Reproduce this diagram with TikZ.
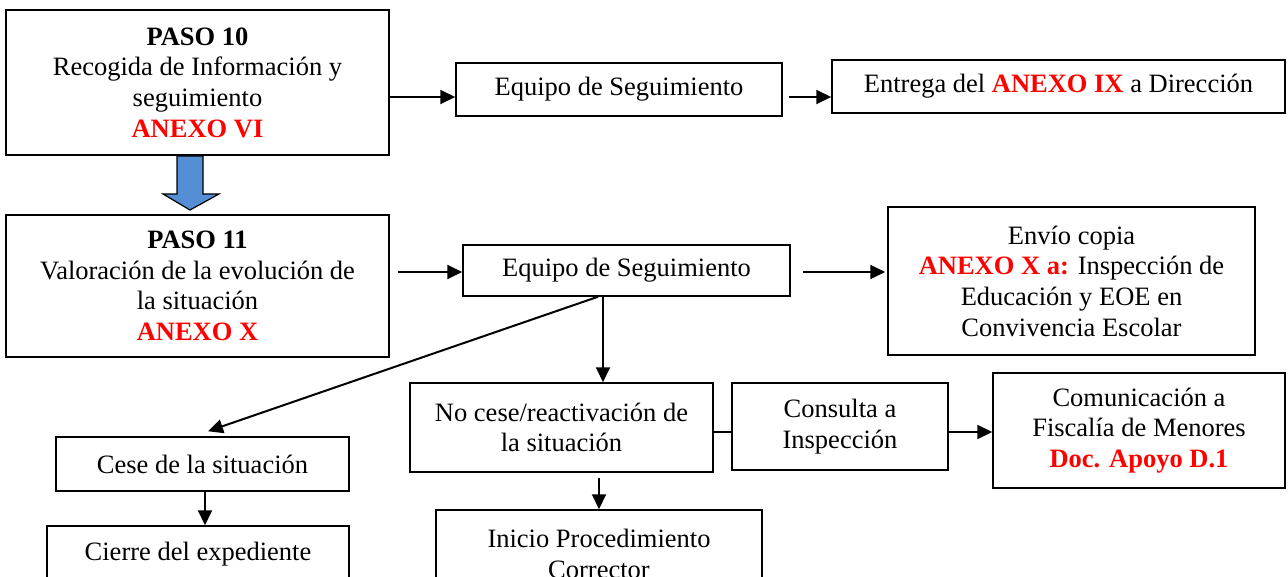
\documentclass[tikz,border=0pt]{standalone}
\usepackage{fontspec}
\setmainfont{Liberation Serif}
\usetikzlibrary{arrows.meta}
\definecolor{anexred}{RGB}{255,0,0}
\definecolor{pasoblue}{RGB}{85,142,213}
\newcommand\rojo[1]{\textcolor{anexred}{\textbf{#1}}}
\tikzset{
  box/.style={draw=black, line width=1.5pt, rectangle, inner sep=0pt, align=center,
    font=\fontsize{26.5}{30.7}\selectfont},
  arr/.style={line width=2pt, -{Triangle[length=15pt,width=14pt]}},
  plain/.style={line width=2pt},
}
\begin{document}
\begin{tikzpicture}[x=1pt,y=-1pt]
\useasboundingbox (0,0) rectangle (1288,577);
\clip (0,0) rectangle (1288,577);
\fill[white] (0,0) rectangle (1288,577);

\node[box, minimum width=383pt, minimum height=145pt] (p10) at (197.5,82.5)
  {\textbf{PASO 10}\\Recogida de Información y\\seguimiento\\\rojo{ANEXO VI}};
\node[box, minimum width=326pt, minimum height=53pt] (eq1) at (619,89.5)
  {Equipo de Seguimiento};
\node[box, minimum width=453pt, minimum height=53pt] (ent) at (1058.5,86.5)
  {Entrega del \rojo{ANEXO IX} a Dirección};

\node[box, minimum width=383pt, minimum height=142pt] (p11) at (197.5,286)
  {\textbf{PASO 11}\\Valoración de la evolución de\\la situación\\\rojo{ANEXO X}};
\node[box, minimum width=327pt, minimum height=51pt] (eq2) at (626.5,270.5)
  {Equipo de Seguimiento};
\node[box, minimum width=367pt, minimum height=148pt] (env) at (1071.5,281)
  {Envío copia\\\rojo{ANEXO X a:} Inspección de\\Educación y EOE en\\Convivencia Escolar};

\node[box, minimum width=303pt, minimum height=89pt] (nc) at (561.5,427.5)
  {No cese/reactivación de\\la situación};
\node[box, minimum width=216pt, minimum height=87pt] (con) at (840,426.5)
  {Consulta a\\Inspección};
\node[box, minimum width=292pt, minimum height=115pt] (com) at (1139,430.5)
  {Comunicación a\\Fiscalía de Menores\\\rojo{Doc. Apoyo D.1}};

\node[box, minimum width=293pt, minimum height=54pt] (cese) at (202.5,464)
  {Cese de la situación};
\node[box, minimum width=302pt, minimum height=56pt] (cie) at (198,554)
  {Cierre del expediente};
\node[box, minimum width=326pt, minimum height=88pt] (ini) at (599,554)
  {Inicio Procedimiento\\Corrector};

% blue down arrow between PASO 10 and PASO 11
\filldraw[fill=pasoblue, draw=black, line width=1.2pt, line join=miter]
  (177,156) -- (203,156) -- (203,194) -- (219,194) -- (190,210)
  -- (163,194) -- (177,194) -- cycle;

% connectors
\draw[arr] (p10.east |- 0,97) -- (eq1.west |- 0,97);
\draw[arr] ([xshift=6pt]eq1.east |- 0,97) -- (ent.west |- 0,97);
\draw[arr] ([xshift=8pt]p11.east |- 0,272) -- (eq2.west |- 0,272);
\draw[arr] ([xshift=12pt]eq2.east |- 0,272) -- ([xshift=-2pt]env.west |- 0,272);
\draw[arr] (eq2.south -| 603,0) -- (nc.north -| 603,0);
\draw[arr] (eq2.south -| 598,0) -- ([yshift=5pt]cese.north -| 208,0);
\draw[arr] ([yshift=-5pt]nc.south -| 599,0) -- (ini.north -| 599,0);
\draw[plain] (nc.east |- 0,432) -- (con.west |- 0,432);
\draw[arr] (con.east |- 0,432) -- (com.west |- 0,432);
\draw[arr] (cese.south -| 205,0) -- (cie.north -| 205,0);
\end{tikzpicture}
\end{document}
